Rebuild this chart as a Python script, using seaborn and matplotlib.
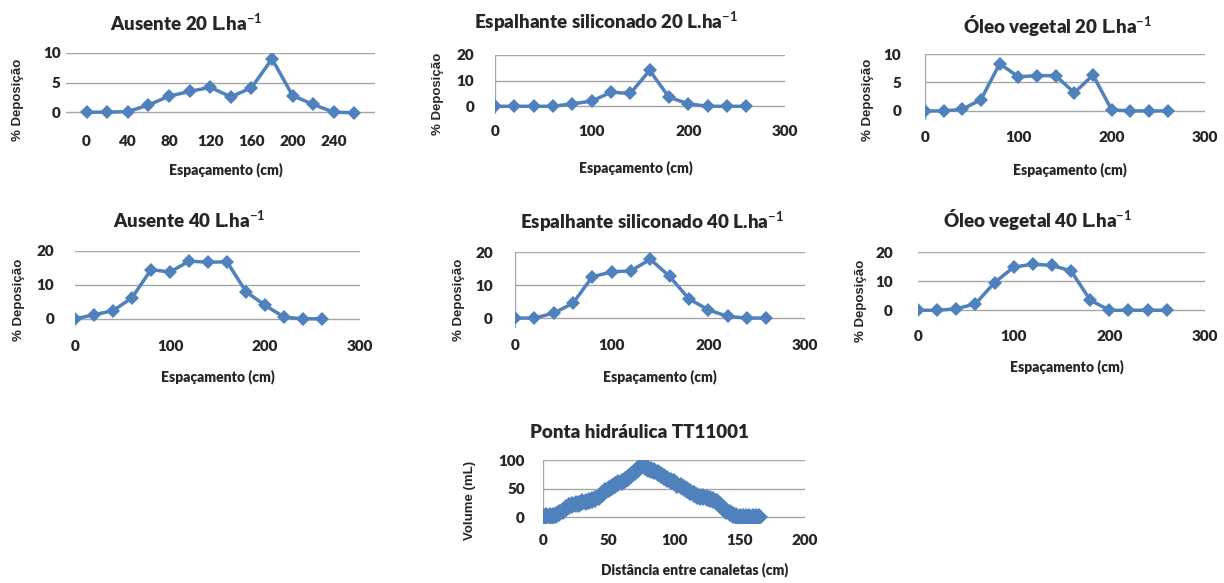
import matplotlib
matplotlib.use("Agg")
import matplotlib.pyplot as plt
import numpy as np
import seaborn as sns

# --- data ---
spacing_cm = [0, 20, 40, 60, 80, 100, 120, 140, 160, 180, 200, 220, 240, 260]

ausente_20 = [0, 0, 0.1, 1.2, 2.7, 3.5, 4.2, 2.6, 4.1, 9.0, 2.8, 1.3, 0, -0.1]
espalhante_20 = [0, 0, 0, 0, 1.0, 2.0, 5.5, 5.0, 14.0, 3.5, 1.0, 0, 0, 0]
oleo_20 = [0, 0, 0.3, 2.0, 8.3, 6.0, 6.2, 6.2, 3.2, 6.3, 0.2, 0, 0, 0]

ausente_40 = [0, 1.2, 2.4, 6.2, 14.5, 13.8, 17.0, 16.7, 16.8, 8.0, 4.0, 0.5, 0, 0]
espalhante_40 = [0, 0, 1.5, 4.5, 12.5, 14.0, 14.3, 17.8, 12.6, 5.8, 2.5, 0.5, 0, 0]
oleo_40 = [0, 0, 0.5, 2.2, 9.5, 14.8, 15.8, 15.4, 13.5, 3.5, 0, 0, 0, 0]

dist_canaletas = np.arange(0, 165.1, 2.5)
volume_ml = [1, 2, 1.5, 3, 4, 7, 11, 16, 20, 22, 23, 24, 26, 27, 28, 30, 32,
             36, 41, 46, 50, 53, 56, 59, 62, 65, 69, 73, 79, 85, 89, 87, 85,
             82, 80, 77, 74, 71, 67, 64, 61, 57, 54, 51, 47, 44, 41, 38, 36,
             35, 33, 32, 30, 26, 21, 16, 11, 7, 4, 2, 1, 0.5, 0, 0.5, 0, 0, 0]

W, H = 1224, 583
BLUE = "#4F81BD"
GRID = "#A6A6A6"
MAIN = ["Lato", "DejaVu Sans"]
WIDE = ["Liberation Sans", "DejaVu Sans"]

sns.set_theme(style="white")
plt.rcParams["font.family"] = MAIN
plt.rcParams["font.weight"] = "bold"
plt.rcParams["mathtext.fontset"] = "custom"
plt.rcParams["mathtext.rm"] = "Lato:bold"
plt.rcParams["mathtext.default"] = "rm"

fig = plt.figure(figsize=(W / 100, H / 100), dpi=100)


def px_rect(left, right, top, bottom):
    return [left / W, 1 - bottom / H, (right - left) / W, (bottom - top) / H]


def ftext(x, y, s, **kw):
    fig.text(x / W, 1 - y / H, s, ha="center", va="center", **kw)


def panel(box, xs, ys, xlim, ylim, xticks, yticks, title, title_xy, xlabel,
          xlabel_xy, ylabel, ylabel_xy, ypad, left_line=True, msize=7, lw=2.5):
    ax = fig.add_axes(px_rect(*box))
    sns.lineplot(x=xs, y=ys, ax=ax, color=BLUE, marker="D", markersize=msize,
                 markeredgewidth=0, linewidth=lw, zorder=3)
    ax.set_xlim(*xlim)
    ax.set_ylim(*ylim)
    ax.set_xticks(xticks)
    ax.set_yticks(yticks)
    ax.set_xticklabels([str(t) for t in xticks])
    ax.set_yticklabels([str(t) for t in yticks])
    for t in yticks:
        ax.axhline(t, color=GRID, linewidth=1, zorder=1)
    for s in ax.spines.values():
        s.set_visible(False)
    if left_line:
        ax.axvline(0, color=GRID, linewidth=1, zorder=1)
    ax.tick_params(axis="x", length=0, pad=8, labelsize=11)
    ax.tick_params(axis="y", length=0, pad=ypad, labelsize=11)
    for lab in ax.get_xticklabels() + ax.get_yticklabels():
        lab.set_fontweight("heavy")
    ax.set_facecolor("white")
    ftext(*title_xy, title, fontsize=13.5, fontweight="heavy")
    ftext(*xlabel_xy, xlabel, fontsize=10, fontweight="heavy")
    ftext(*ylabel_xy, ylabel, fontsize=9.5, fontweight="bold", rotation=90,
          family=WIDE)
    return ax


dep = "% Deposição"
esp = "Espaçamento (cm)"

panel((66, 375, 53, 124), spacing_cm, ausente_20, (-20, 280), (-2, 10),
      [0, 40, 80, 120, 160, 200, 240], [0, 5, 10],
      r"Ausente 20 L.ha$^{-1}$", (186, 23), esp, (226, 170), dep, (18, 100),
      ypad=4, left_line=False)
panel((495, 785, 55, 114), spacing_cm, espalhante_20, (0, 300), (-3, 20),
      [0, 100, 200, 300], [0, 10, 20],
      r"Espalhante siliconado 20 L.ha$^{-1}$", (606, 22), esp, (636, 168),
      dep, (438, 94), ypad=15)
panel((925, 1205, 54, 119.5), spacing_cm, oleo_20, (0, 300), (-1.5, 10),
      [0, 100, 200, 300], [0, 5, 10],
      r"Óleo vegetal 20 L.ha$^{-1}$", (1058, 25), esp, (1070, 170), dep,
      (868, 100), ypad=17)

panel((75, 360, 251, 329), spacing_cm, ausente_40, (0, 300), (-3, 20),
      [0, 100, 200, 300], [0, 10, 20],
      r"Ausente 40 L.ha$^{-1}$", (189, 220), esp, (218, 377), dep, (19, 300),
      ypad=15, left_line=False)
panel((515, 805, 252, 328), spacing_cm, espalhante_40, (0, 300), (-3, 20),
      [0, 100, 200, 300], [0, 10, 20],
      r"Espalhante siliconado 40 L.ha$^{-1}$", (652, 222), esp, (660, 377),
      dep, (459, 300), ypad=16)
panel((918, 1205, 252, 319), spacing_cm, oleo_40, (0, 300), (-3, 20),
      [0, 100, 200, 300], [0, 10, 20],
      r"Óleo vegetal 40 L.ha$^{-1}$", (1038, 220), esp, (1067, 367), dep,
      (861, 301), ypad=18, left_line=False)

panel((543, 805, 460, 523), dist_canaletas, volume_ml, (0, 200), (-10, 100),
      [0, 50, 100, 150, 200], [0, 50, 100],
      "Ponta hidráulica TT11001", (639, 433), "Distância entre canaletas (cm)",
      (695, 570), "Volume (mL)", (470, 500), ypad=13, msize=9, lw=5)

fig.savefig("out.png", dpi=100)
